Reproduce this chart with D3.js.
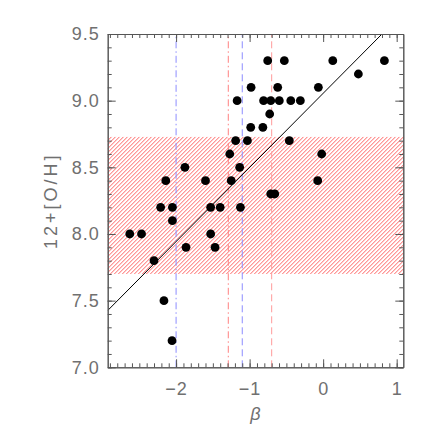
<!DOCTYPE html>
<html>
<head>
<meta charset="utf-8">
<script src="https://cdn.jsdelivr.net/npm/d3@7"></script>
<style>
  body { margin: 0; background: #fff; }
  text { font-family: "Liberation Sans", "DejaVu Sans", sans-serif; }
</style>
</head>
<body>
<div id="chart"></div>
<script>
// beta values and oxygen abundances
const beta = [-2.63, -2.47, -2.30, -2.21, -2.165, -2.14, -2.05, -2.05, -2.055, -1.88,
              -1.865, -1.60, -1.53, -1.53, -1.47, -1.40, -1.27, -1.25, -1.19, -1.17,
              -1.135, -1.125, -1.03, -0.985, -0.98, -0.82, -0.81, -0.754, -0.727, -0.713,
              -0.713, -0.658, -0.618, -0.596, -0.528, -0.46, -0.44, -0.31, -0.074, -0.065,
              -0.02, 0.131, 0.479, 0.833];
const oh = [8.0, 8.0, 7.8, 8.2, 7.5, 8.4, 8.2, 8.1, 7.2, 8.5,
            7.9, 8.4, 8.2, 8.0, 7.9, 8.2, 8.6, 8.4, 8.7, 9.0,
            8.5, 8.2, 8.7, 8.8, 9.1, 8.8, 9.0, 9.3, 8.9, 9.0,
            8.3, 8.3, 9.1, 9.0, 9.3, 8.7, 9.0, 9.0, 8.4, 9.1,
            8.6, 9.3, 9.2, 9.3];
const bandRange = [7.7, 8.73];          // hatched abundance range
const refBeta = [-2.0, -1.29, -1.1, -0.7]; // vertical reference lines
const fitSlope = 0.556, fitIntercept = 9.055;
const xTicks = [-2, -1, 0, 1];
const yTicks = [7.0, 7.5, 8.0, 8.5, 9.0, 9.5];

const width = 436, height = 436;
const margin = {left: 107.7, right: 32.7, top: 34, bottom: 68.7};

const svg = d3.select("#chart").append("svg")
    .attr("width", width)
    .attr("height", height);

const x = d3.scaleLinear().domain([-2.93, 1.09]).range([margin.left, width - margin.right]);
const y = d3.scaleLinear().domain([7.0, 9.5]).range([height - margin.bottom, margin.top]);
const H = y.range()[0], T = y.range()[1], L = x.range()[0], R = x.range()[1];

const defs = svg.append("defs");
defs.append("clipPath").attr("id", "clip")
  .append("rect")
    .attr("x", L).attr("y", T)
    .attr("width", R - L)
    .attr("height", H - T);
defs.append("clipPath").attr("id", "bandclip")
  .append("rect")
    .attr("x", L).attr("y", y(bandRange[1]))
    .attr("width", R - L)
    .attr("height", y(bandRange[0]) - y(bandRange[1]));

const plot = svg.append("g").attr("clip-path", "url(#clip)");

// hatched band: "/" lines every 4 px
const bTop = y(bandRange[1]), bBot = y(bandRange[0]);
const hatchStarts = d3.range(L - (bBot - bTop), R + 4, 4);
plot.append("g")
    .attr("clip-path", "url(#bandclip)")
  .selectAll("line")
  .data(hatchStarts)
  .join("line")
    .attr("x1", d => d).attr("y1", bBot)
    .attr("x2", d => d + (bBot - bTop)).attr("y2", bTop)
    .attr("stroke", "#ff5050")
    .attr("stroke-width", 0.9);

// vertical reference lines
const refColor = ["#8c8cff", "#ff8080", "#8c8cff", "#ff9a9a"];
const refDash = ["7,3,1.5,3", "7,3,1.5,3", "7,4", "7,4"];
plot.selectAll("line.ref")
  .data(refBeta)
  .join("line")
    .attr("class", "ref")
    .attr("x1", d => x(d)).attr("x2", d => x(d))
    .attr("y1", H).attr("y2", T)
    .attr("stroke", (d, i) => refColor[i])
    .attr("stroke-width", 1)
    .attr("stroke-dasharray", (d, i) => refDash[i]);

// fit line
const xd = x.domain();
plot.append("line")
    .attr("x1", x(xd[0])).attr("y1", y(fitIntercept + fitSlope * xd[0]))
    .attr("x2", x(xd[1])).attr("y2", y(fitIntercept + fitSlope * xd[1]))
    .attr("stroke", "#000")
    .attr("stroke-width", 1);

// points
plot.selectAll("circle")
  .data(beta.map((b, i) => [b, oh[i]]))
  .join("circle")
    .attr("cx", d => x(d[0]))
    .attr("cy", d => y(d[1]))
    .attr("r", 4.4)
    .attr("fill", "#000");

// axes: minor ticks every 0.1, major at labels
const axisColor = "#555";
const labelColor = "#707070";
const xMinor = d3.range(-29, 11).map(d => d / 10);
const yMinor = d3.range(70, 96).map(d => d / 10);

function styleAxis(g) {
  g.select(".domain").attr("stroke", axisColor);
  g.selectAll(".tick line").attr("stroke", axisColor);
  g.selectAll("text").attr("fill", labelColor).attr("font-size", 18).attr("letter-spacing", 1);
}

svg.append("g").attr("transform", `translate(0,${H})`)
  .call(d3.axisBottom(x).tickValues(xMinor).tickSize(-4).tickFormat("").tickSizeOuter(0)).call(styleAxis);
svg.append("g").attr("transform", `translate(0,${H})`)
  .call(d3.axisBottom(x).tickValues(xTicks).tickSize(-8).tickPadding(15).tickFormat(d3.format("d")).tickSizeOuter(0)).call(styleAxis);
svg.append("g").attr("transform", `translate(0,${T})`)
  .call(d3.axisTop(x).tickValues(xMinor).tickSize(-4).tickFormat("").tickSizeOuter(0)).call(styleAxis);
svg.append("g").attr("transform", `translate(0,${T})`)
  .call(d3.axisTop(x).tickValues(xTicks).tickSize(-8).tickFormat("").tickSizeOuter(0)).call(styleAxis);

svg.append("g").attr("transform", `translate(${L},0)`)
  .call(d3.axisLeft(y).tickValues(yMinor).tickSize(-4).tickFormat("").tickSizeOuter(0)).call(styleAxis);
svg.append("g").attr("transform", `translate(${L},0)`)
  .call(d3.axisLeft(y).tickValues(yTicks).tickSize(-8).tickPadding(8).tickFormat(d3.format(".1f")).tickSizeOuter(0)).call(styleAxis);
svg.append("g").attr("transform", `translate(${R},0)`)
  .call(d3.axisRight(y).tickValues(yMinor).tickSize(-4).tickFormat("").tickSizeOuter(0)).call(styleAxis);
svg.append("g").attr("transform", `translate(${R},0)`)
  .call(d3.axisRight(y).tickValues(yTicks).tickSize(-8).tickFormat("").tickSizeOuter(0)).call(styleAxis);

// axis titles
svg.append("text")
    .attr("transform", `translate(57,${(H + T) / 2}) rotate(-90)`)
    .attr("text-anchor", "middle")
    .attr("fill", labelColor)
    .attr("font-size", 18)
    .attr("letter-spacing", 3)
    .text("12+[O/H]");
svg.append("text")
    .attr("x", (L + R) / 2)
    .attr("y", 420)
    .attr("text-anchor", "middle")
    .attr("fill", labelColor)
    .attr("font-size", 18)
    .attr("font-style", "italic")
    .text("β");
</script>
</body>
</html>
